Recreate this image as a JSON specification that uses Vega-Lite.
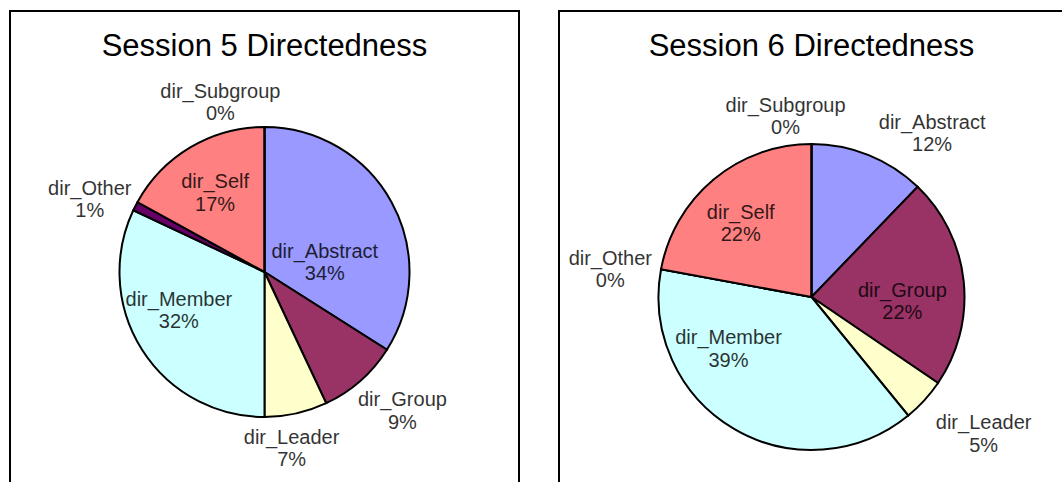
{
  "$schema": "https://vega.github.io/schema/vega-lite/v6.json",
  "background": "white",
  "padding": {"left": 9, "top": 10, "right": 0, "bottom": 0},
  "spacing": 38,
  "datasets": {
    "s5": [
      {"category": "dir_Abstract", "value": 34},
      {"category": "dir_Group", "value": 9},
      {"category": "dir_Leader", "value": 7},
      {"category": "dir_Member", "value": 32},
      {"category": "dir_Other", "value": 1},
      {"category": "dir_Self", "value": 17},
      {"category": "dir_Subgroup", "value": 0}
    ],
    "s6": [
      {"category": "dir_Abstract", "value": 12.2},
      {"category": "dir_Group", "value": 22.3},
      {"category": "dir_Leader", "value": 4.6},
      {"category": "dir_Member", "value": 38.8},
      {"category": "dir_Other", "value": 0},
      {"category": "dir_Self", "value": 22.1},
      {"category": "dir_Subgroup", "value": 0}
    ]
  },
  "hconcat": [
    {
      "width": 509,
      "height": 522,
      "title": {"text": "Session 5 Directedness", "offset": -52.5},
      "layer": [
        {
          "data": {"values": [{}]},
          "mark": {"type": "rect", "fill": null, "stroke": "black", "strokeWidth": 2},
          "encoding": {}
        },
        {
          "data": {"name": "s5"},
          "transform": [{"calculate": "datum.category + '\\n' + format(datum.value, '.0f') + '%'", "as": "label"}],
          "encoding": {
            "theta": {"field": "value", "type": "quantitative", "stack": true},
            "order": {"field": "category", "type": "ordinal"}
          },
          "layer": [
            {
              "mark": {"type": "arc", "outerRadius": 145, "stroke": "black", "strokeWidth": 2},
              "encoding": {
                "color": {
                  "field": "category", "type": "nominal", "legend": null,
                  "scale": {
                    "domain": ["dir_Abstract", "dir_Group", "dir_Leader", "dir_Member", "dir_Other", "dir_Self", "dir_Subgroup"],
                    "range": ["#9999FF", "#993366", "#FFFFCC", "#CCFFFF", "#660066", "#FF8080", "#0066CC"]
                  }
                }
              }
            },
            {"mark": {"type": "text", "radius": 175, "thetaOffset": -0.255}, "encoding": {"text": {"condition": {"test": "datum.category === 'dir_Subgroup'", "field": "label"}, "value": ""}}},
            {"mark": {"type": "text", "radius": 189, "thetaOffset": -0.080}, "encoding": {"text": {"condition": {"test": "datum.category === 'dir_Other'", "field": "label"}, "value": ""}}},
            {"mark": {"type": "text", "radius": 93, "thetaOffset": -0.026}, "encoding": {"text": {"condition": {"test": "datum.category === 'dir_Self'", "field": "label"}, "value": ""}}},
            {"mark": {"type": "text", "radius": 61, "thetaOffset": 0.354}, "encoding": {"text": {"condition": {"test": "datum.category === 'dir_Abstract'", "field": "label"}, "value": ""}}},
            {"mark": {"type": "text", "radius": 94, "thetaOffset": 0.140}, "encoding": {"text": {"condition": {"test": "datum.category === 'dir_Member'", "field": "label"}, "value": ""}}},
            {"mark": {"type": "text", "radius": 196, "thetaOffset": -0.058}, "encoding": {"text": {"condition": {"test": "datum.category === 'dir_Group'", "field": "label"}, "value": ""}}},
            {"mark": {"type": "text", "radius": 179, "thetaOffset": 0.068}, "encoding": {"text": {"condition": {"test": "datum.category === 'dir_Leader'", "field": "label"}, "value": ""}}}
          ]
        }
      ]
    },
    {
      "width": 505,
      "height": 572,
      "title": {"text": "Session 6 Directedness", "offset": -52.5},
      "layer": [
        {
          "data": {"values": [{}]},
          "mark": {"type": "rect", "fill": null, "stroke": "black", "strokeWidth": 2},
          "encoding": {}
        },
        {
          "data": {"name": "s6"},
          "transform": [{"calculate": "datum.category + '\\n' + format(datum.value, '.0f') + '%'", "as": "label"}],
          "encoding": {
            "theta": {"field": "value", "type": "quantitative", "stack": true},
            "order": {"field": "category", "type": "ordinal"}
          },
          "layer": [
            {
              "mark": {"type": "arc", "outerRadius": 153, "stroke": "black", "strokeWidth": 2},
              "encoding": {
                "color": {
                  "field": "category", "type": "nominal", "legend": null,
                  "scale": {
                    "domain": ["dir_Abstract", "dir_Group", "dir_Leader", "dir_Member", "dir_Other", "dir_Self", "dir_Subgroup"],
                    "range": ["#9999FF", "#993366", "#FFFFCC", "#CCFFFF", "#660066", "#FF8080", "#0066CC"]
                  }
                }
              }
            },
            {"mark": {"type": "text", "radius": 182, "thetaOffset": -0.143}, "encoding": {"text": {"condition": {"test": "datum.category === 'dir_Subgroup'", "field": "label"}, "value": ""}}},
            {"mark": {"type": "text", "radius": 203, "thetaOffset": -0.048}, "encoding": {"text": {"condition": {"test": "datum.category === 'dir_Other'", "field": "label"}, "value": ""}}},
            {"mark": {"type": "text", "radius": 102, "thetaOffset": -0.072}, "encoding": {"text": {"condition": {"test": "datum.category === 'dir_Self'", "field": "label"}, "value": ""}}},
            {"mark": {"type": "text", "radius": 203, "thetaOffset": 0.253}, "encoding": {"text": {"condition": {"test": "datum.category === 'dir_Abstract'", "field": "label"}, "value": ""}}},
            {"mark": {"type": "text", "radius": 98, "thetaOffset": 0.476}, "encoding": {"text": {"condition": {"test": "datum.category === 'dir_Member'", "field": "label"}, "value": ""}}},
            {"mark": {"type": "text", "radius": 91, "thetaOffset": 0.158}, "encoding": {"text": {"condition": {"test": "datum.category === 'dir_Group'", "field": "label"}, "value": ""}}},
            {"mark": {"type": "text", "radius": 220, "thetaOffset": -0.069}, "encoding": {"text": {"condition": {"test": "datum.category === 'dir_Leader'", "field": "label"}, "value": ""}}}
          ]
        }
      ]
    }
  ],
  "config": {
    "view": {"stroke": null},
    "title": {"font": "Liberation Sans", "fontSize": 31, "fontWeight": "normal", "color": "black", "anchor": "middle", "baseline": "alphabetic"},
    "text": {"font": "Liberation Sans", "fontSize": 20, "lineBreak": "\n", "lineHeight": 22.5, "fill": "black", "opacity": 0.8, "align": "center", "baseline": "middle", "dy": -11}
  }
}
